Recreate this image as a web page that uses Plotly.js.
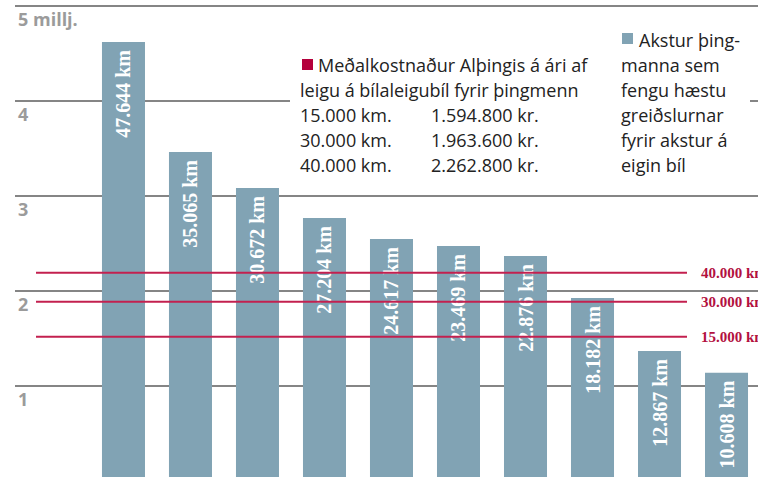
<!DOCTYPE html>
<html><head><meta charset="utf-8">
<script src="https://cdn.plot.ly/plotly-3.0.1.min.js"></script>
<style>html,body{margin:0;padding:0;background:#fff}#chart{width:758px;height:477px}</style>
</head><body><div id="chart"></div>
<script>
// ---- data ----
const barLabels = ['47.644 km','35.065 km','30.672 km','27.204 km','24.617 km','23.469 km','22.876 km','18.182 km','12.867 km','10.608 km'];
const barValues = [4.618, 3.460, 3.081, 2.765, 2.544, 2.471, 2.365, 1.923, 1.365, 1.137];
const refKmLabels = ['40.000 km','30.000 km','15.000 km'];
const refValues = [2.189, 1.884, 1.516];
const tickValues = [1, 2, 3, 4, 5];
const tickLabels = ['1', '2', '3', '4', '5 millj.'];
const costKm = ['15.000 km.', '30.000 km.', '40.000 km.'];
const costKr = ['1.594.800 kr.', '1.963.600 kr.', '2.262.800 kr.'];
const legend1Lines = ['Meðalkostnaður Alþingis á ári af', 'leigu á bílaleigubíl fyrir þingmenn'];
const legend2Lines = ['Akstur þing-', 'manna sem', 'fengu hæstu', 'greiðslurnar', 'fyrir akstur á', 'eigin bíl'];

// ---- layout helpers (pixel -> paper) ----
const W = 758, H = 477, L = 15;
const px = x => (x - L) / (W - L);
const py = y => 1 - y / H;

const barColor = '#81a3b4';
const redLine = '#c3204f';
const redText = '#b3113f';
const legendFont = {family: 'Open Sans, sans-serif', size: 18, color: '#222'};

const trace = {
  type: 'bar',
  x: barValues.map((_, i) => i),
  y: barValues,
  width: 0.642,
  marker: {color: barColor},
  text: barLabels,
  texttemplate: '%{text}\u00a0',
  textposition: 'inside',
  insidetextanchor: 'end',
  textangle: -90,
  textfont: {family: 'Liberation Serif, serif', size: 20, color: '#ffffff', weight: 'bold'},
  hoverinfo: 'none',
  cliponaxis: false
};

const shapes = [];
const annotations = [];

refValues.forEach((v, i) => {
  shapes.push({type: 'line', xref: 'paper', yref: 'y', x0: px(36), x1: px(687), y0: v, y1: v,
    line: {color: redLine, width: 2}, layer: 'above'});
  annotations.push({xref: 'paper', yref: 'y', x: px(699), y: v, xanchor: 'left', yanchor: 'middle',
    text: refKmLabels[i], showarrow: false,
    font: {family: 'Liberation Serif, serif', size: 15, color: redText, weight: 'bold'}});
});

// white cover for interrupted gridline behind legend text
shapes.push({type: 'rect', xref: 'paper', yref: 'y', x0: px(290), x1: px(750), y0: 3.9, y1: 4.1,
  fillcolor: '#ffffff', line: {width: 0}, layer: 'above'});

// legend squares
shapes.push({type: 'rect', xref: 'paper', yref: 'paper', x0: px(302), x1: px(313), y0: py(70), y1: py(59),
  fillcolor: '#b4003c', line: {width: 0}, layer: 'above'});
shapes.push({type: 'rect', xref: 'paper', yref: 'paper', x0: px(622), x1: px(633), y0: py(44), y1: py(33),
  fillcolor: barColor, line: {width: 0}, layer: 'above'});

const addLine = (txt, x, y) => annotations.push({xref: 'paper', yref: 'paper', x: px(x), y: py(y),
  xanchor: 'left', yanchor: 'middle', text: txt, showarrow: false, font: legendFont});

addLine(legend1Lines[0], 316, 65);
addLine(legend1Lines[1], 298, 90);
costKm.forEach((t, i) => { addLine(t, 298, 115 + 25 * i); addLine(costKr[i], 429, 115 + 25 * i); });

legend2Lines.forEach((t, i) => addLine(t, i === 0 ? 637 : 619, 40 + 25 * i));

const layout = {
  width: W, height: H,
  margin: {l: L, r: 0, t: 0, b: 0, pad: 0},
  paper_bgcolor: '#ffffff', plot_bgcolor: '#ffffff',
  showlegend: false,
  xaxis: {range: [-1.619, 9.470], showgrid: false, zeroline: false, showticklabels: false, ticks: '', showline: false},
  yaxis: {range: [0.039, 5.06], tickvals: tickValues, ticktext: tickLabels,
    showgrid: true, gridcolor: '#858585', gridwidth: 2, zeroline: false, showline: false, ticks: '',
    ticklabelposition: 'inside', ticklabelshift: 14, ticklabelstandoff: 0,
    tickfont: {family: 'Open Sans, sans-serif', size: 18, color: '#9b9b9b', weight: 'bold'}},
  shapes: shapes,
  annotations: annotations
};

Plotly.newPlot('chart', [trace], layout, {staticPlot: true, displayModeBar: false});
</script>
</body></html>
